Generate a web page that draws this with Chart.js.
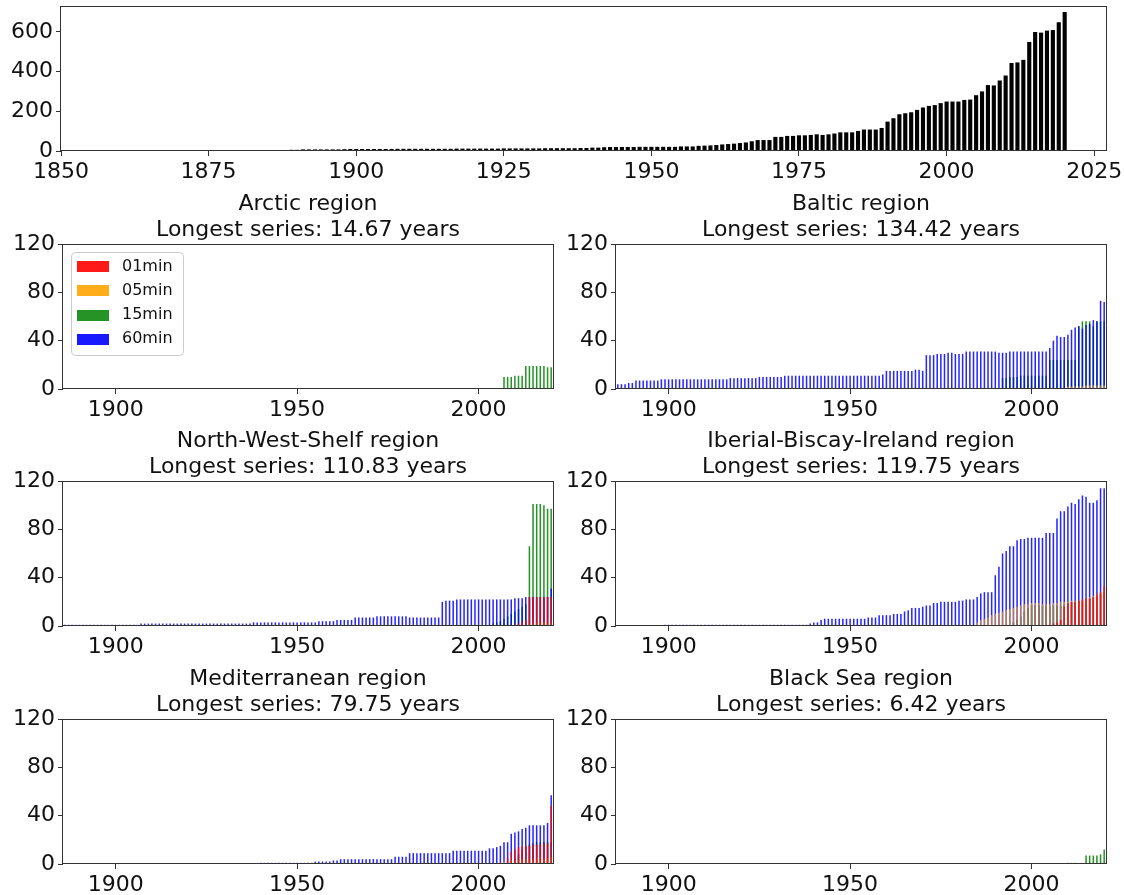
<!DOCTYPE html>
<html>
<head>
<meta charset="utf-8">
<script src="https://cdn.jsdelivr.net/npm/chart.js@4.4.1/dist/chart.umd.min.js"></script>
<style>
  body { margin: 0; background: #fff; }
  #wrap { position: relative; width: 1124px; height: 895px; overflow: hidden; }
  canvas { position: absolute; }
</style>
</head>
<body>
<div id="wrap">
  <canvas id="total" width="1124" height="185" style="left:0;top:0"></canvas>
  <canvas id="arctic" width="560" height="232" style="left:0;top:188px"></canvas>
  <canvas id="baltic" width="564" height="232" style="left:560px;top:188px"></canvas>
  <canvas id="nws" width="560" height="232" style="left:0;top:425px"></canvas>
  <canvas id="ibi" width="564" height="232" style="left:560px;top:425px"></canvas>
  <canvas id="med" width="560" height="232" style="left:0;top:663px"></canvas>
  <canvas id="black" width="564" height="232" style="left:560px;top:663px"></canvas>
</div>
<script>
// ---- data ----
// total number of stations per year (top chart), 1886..2020
const totalFrom = 1886;
const totalStations = [
  5, 5, 5, 6, 6, 8, 8, 8, 8, 8,
  8, 8, 9, 10, 10, 10, 10, 10, 10, 10,
  10, 11, 11, 11, 11, 11, 11, 11, 11, 11,
  11, 12, 12, 12, 12, 12, 12, 12, 12, 13,
  13, 13, 13, 13, 13, 13, 14, 14, 14, 14,
  14, 14, 15, 15, 17, 17, 19, 20, 20, 20,
  20, 20, 21, 21, 21, 21, 21, 21, 21, 23,
  23, 23, 26, 27, 28, 30, 33, 35, 37, 40,
  43, 49, 55, 55, 55, 71, 71, 76, 76, 79,
  79, 81, 84, 81, 84, 88, 94, 94, 94, 101,
  108, 108, 108, 116, 148, 165, 185, 190, 195, 207,
  219, 227, 231, 241, 249, 249, 249, 257, 259, 281,
  300, 332, 330, 355, 380, 443, 446, 459, 549, 599,
  596, 606, 609, 648, 700
];
const totalYearTicks = [1850, 1875, 1900, 1925, 1950, 1975, 2000, 2025];
const totalValueTicks = [0, 200, 400, 600];

const intervalLabels = ["01min", "05min", "15min", "60min"];
const intervalColors = ["rgba(255,0,0,0.85)", "rgba(255,165,0,0.65)", "rgba(0,128,0,0.85)", "rgba(0,0,255,0.85)"];
const legendColors = ["rgba(255,0,0,0.9)", "rgba(255,165,0,0.9)", "rgba(0,128,0,0.85)", "rgba(0,0,255,0.9)"];
const drawOrder = [0, 1, 3, 2]; // red on top, green at the bottom
const panelYearTicks = [1900, 1950, 2000];
const panelValueTicks = [0, 40, 80, 120];

// Arctic
const arctic01From = 2020, arctic01 = [];
const arctic05From = 2020, arctic05 = [];
const arctic15From = 2007, arctic15 = [10, 10, 10, 11, 11, 11, 19, 19, 19, 19, 19, 19, 18, 18];
const arctic60From = 2020, arctic60 = [];

// Baltic
const baltic01From = 2020, baltic01 = [];
const baltic05From = 2010, baltic05 = [2, 2, 2, 2, 2, 3, 3, 3, 3, 3, 3];
const baltic15From = 1992, baltic15 = [
  9, 9, 10, 10, 10, 11, 11, 11, 11, 11, 11, 11, 11,
  24, 24, 24, 24, 24, 24, 24, 24,
  52, 56, 56, 56, 52, 56, 56, 56
];
const baltic60From = 1886, baltic60 = [
  4, 4, 4, 5, 5, 7, 7, 7, 7, 7,
  7, 7, 8, 8, 8, 8, 8, 8, 8, 8,
  8, 8, 8, 8, 8, 8, 8, 8, 8, 8,
  8, 9, 9, 9, 9, 9, 9, 9, 9, 10,
  10, 10, 10, 10, 10, 10, 11, 11, 11, 11,
  11, 11, 11, 11, 11, 11, 11, 11, 11, 11,
  11, 11, 11, 11, 11, 11, 11, 11, 11, 11,
  11, 11, 11, 12, 15, 15, 15, 15, 15, 15,
  15, 15, 16, 16, 15, 28, 28, 28, 29, 29,
  29, 30, 30, 29, 29, 29, 31, 31, 31, 31,
  31, 31, 31, 31, 31, 30, 30, 30, 31, 31,
  31, 31, 31, 31, 31, 31, 31, 31, 31, 34,
  40, 44, 43, 43, 45, 49, 51, 52, 50, 53,
  54, 57, 56, 73, 72
];

// North-West-Shelf
const nws01From = 2010, nws01 = [1, 2, 3, 5, 24, 24, 24, 24, 24, 24, 24];
const nws05From = 2014, nws05 = [2, 2, 3, 3, 3, 3, 3];
const nws15From = 2004, nws15 = [2, 3, 4, 6, 8, 10, 12, 14, 16, 18, 66, 101, 101, 101, 100, 97, 97];
const nws60From = 1886, nws60 = [
  1, 1, 1, 1, 1, 1, 1, 1, 1, 1,
  1, 1, 1, 1, 1, 1, 1, 1, 1, 1,
  1, 2, 2, 2, 2, 2, 2, 2, 2, 2,
  2, 2, 2, 2, 2, 2, 2, 2, 2, 2,
  2, 2, 2, 2, 2, 2, 2, 2, 2, 2,
  2, 2, 3, 3, 3, 3, 3, 3, 3, 3,
  3, 3, 3, 3, 3, 3, 3, 3, 3, 3,
  4, 4, 4, 4, 4, 5, 5, 5, 5, 5,
  7, 7, 7, 7, 7, 7, 8, 8, 8, 8,
  8, 8, 8, 8, 8, 7, 7, 7, 7, 7,
  7, 7, 7, 7, 20, 21, 21, 21, 22, 22,
  22, 22, 22, 22, 22, 22, 22, 22, 22, 22,
  22, 22, 22, 22, 23, 23, 23, 24, 24, 24,
  24, 24, 24, 24, 31
];

// Iberian-Biscay-Ireland
const ibi01From = 2005, ibi01 = [1, 2, 3, 5, 16, 19, 20, 20, 21, 22, 23, 23, 24, 26, 28, 33];
const ibi05From = 1985, ibi05 = [
  3, 5, 6, 7, 9, 10, 11, 12, 13, 14, 15, 16, 17, 18, 18, 19, 19, 19,
  18, 18, 18, 19, 19, 20, 20, 20, 21, 21, 21, 22, 23, 24, 25, 26, 28, 30
];
const ibi15From = 1995, ibi15 = [
  3, 5, 8, 12, 15, 17, 17, 17, 17, 17, 17, 17, 17,
  17, 18, 18, 19, 19, 20, 20, 21, 22, 23, 24, 26, 28
];
const ibi60From = 1899, ibi60 = [
  1, 1, 1, 1, 1, 1, 1,
  1, 1, 1, 1, 1, 1, 1, 1, 1, 1,
  1, 1, 1, 1, 1, 1, 1, 1, 1, 1,
  1, 1, 1, 1, 1, 1, 1, 1, 1, 1,
  1, 1, 1, 2, 3, 3, 5, 6, 6, 6,
  6, 6, 6, 6, 6, 6, 6, 6, 6, 7,
  7, 7, 9, 9, 9, 9, 10, 10, 10, 12,
  13, 15, 15, 15, 16, 17, 17, 19, 19, 20,
  20, 20, 20, 20, 21, 21, 22, 22, 22, 24,
  27, 28, 28, 28, 42, 49, 60, 62, 66, 66,
  71, 72, 72, 73, 73, 73, 73, 73, 77, 77,
  77, 89, 95, 95, 99, 102, 101, 105, 108, 107,
  102, 102, 104, 114, 114
];

// Mediterranean
const med01From = 2008, med01 = [5, 10, 12, 14, 15, 15, 15, 16, 16, 16, 17, 17, 48];
const med05From = 2005, med05 = [1, 1, 2, 3, 3, 3, 3, 4, 4, 4, 4, 5, 5, 5, 5, 6];
const med15From = 2010, med15 = [5, 8, 12, 15, 16, 17, 18, 18, 18, 18, 18];
const med60From = 1940, med60 = [
  1, 1, 1, 1, 1, 1, 1, 1, 1, 1,
  1, 1, 1, 1, 1, 2, 2, 2, 2, 2,
  3, 3, 4, 4, 4, 4, 4, 4, 4, 4,
  4, 4, 4, 4, 4, 4, 4, 6, 6, 6,
  6, 9, 9, 9, 9, 9, 9, 9, 9, 9,
  9, 9, 9, 11, 11, 11, 11, 11, 11, 11,
  11, 11, 11, 13, 13, 14, 15, 18, 18, 25,
  26, 27, 29, 30, 32, 32, 32, 32, 32, 34,
  57
];

// Black Sea
const black01From = 2020, black01 = [];
const black05From = 2020, black05 = [];
const black15From = 2010, black15 = [1, 1, 1, 0, 0, 7, 7, 7, 7, 8, 12];
const black60From = 2020, black60 = [];

const panels = [
  { id: "arctic", title: ["Arctic region", "Longest series: 14.67 years"], axisWidth: 63, padRight: 7, legend: true,
    series: [[arctic01From, arctic01], [arctic05From, arctic05], [arctic15From, arctic15], [arctic60From, arctic60]] },
  { id: "baltic", title: ["Baltic region", "Longest series: 134.42 years"], axisWidth: 56, padRight: 18,
    series: [[baltic01From, baltic01], [baltic05From, baltic05], [baltic15From, baltic15], [baltic60From, baltic60]] },
  { id: "nws", title: ["North-West-Shelf region", "Longest series: 110.83 years"], axisWidth: 63, padRight: 7,
    series: [[nws01From, nws01], [nws05From, nws05], [nws15From, nws15], [nws60From, nws60]] },
  { id: "ibi", title: ["Iberial-Biscay-Ireland region", "Longest series: 119.75 years"], axisWidth: 56, padRight: 18,
    series: [[ibi01From, ibi01], [ibi05From, ibi05], [ibi15From, ibi15], [ibi60From, ibi60]] },
  { id: "med", title: ["Mediterranean region", "Longest series: 79.75 years"], axisWidth: 63, padRight: 7,
    series: [[med01From, med01], [med05From, med05], [med15From, med15], [med60From, med60]] },
  { id: "black", title: ["Black Sea region", "Longest series: 6.42 years"], axisWidth: 56, padRight: 18,
    series: [[black01From, black01], [black05From, black05], [black15From, black15], [black60From, black60]] }
];

// ---- helpers ----
const FONT = "'DejaVu Sans', sans-serif";
const TEXT = "#111";
const AXIS = "#333";

function toPoints(from, values) {
  return values.map((v, i) => ({ x: from + i, y: v }));
}

// box around the plot area like matplotlib spines
const framePlugin = {
  id: "frame",
  afterDatasetsDraw(chart) {
    const { ctx, chartArea: a } = chart;
    ctx.save();
    ctx.strokeStyle = AXIS;
    ctx.lineWidth = 1;
    ctx.strokeRect(Math.round(a.left) - 0.5, Math.round(a.top) + 0.5,
      Math.round(a.right - a.left) + 1, Math.round(a.bottom - a.top) - 1);
    ctx.restore();
  }
};

// legend inside the top-left of the axes
const legendPlugin = {
  id: "boxLegend",
  afterDraw(chart) {
    const { ctx, chartArea: a } = chart;
    const x0 = Math.round(a.left) + 8, y0 = Math.round(a.top) + 8;
    ctx.save();
    ctx.fillStyle = "rgba(255,255,255,0.8)";
    ctx.strokeStyle = "#cccccc";
    ctx.lineWidth = 1;
    ctx.beginPath();
    ctx.roundRect(x0 + 0.5, y0 + 0.5, 112, 103, 4);
    ctx.fill();
    ctx.stroke();
    ctx.font = "16px " + FONT;
    ctx.textBaseline = "middle";
    chart.data.datasets.forEach((ds, i) => {
      const cy = y0 + 14.7 + i * 24.2;
      ctx.fillStyle = ds.legendColor;
      ctx.fillRect(x0 + 6, Math.round(cy - 5.5), 32, 11);
      ctx.fillStyle = TEXT;
      ctx.fillText(ds.label, x0 + 51, cy);
    });
    ctx.restore();
  }
};

function axisOptions(tickValues, extra) {
  return Object.assign({
    type: "linear",
    offset: false,
    grid: { display: true, drawOnChartArea: false, drawTicks: true, tickLength: 5, color: AXIS, offset: false },
    border: { display: false },
    ticks: {
      color: TEXT, padding: 3, autoSkip: false, maxRotation: 0,
      font: { family: FONT, size: 22, lineHeight: 1.2 },
      callback: v => String(v)
    },
    afterBuildTicks: axis => { axis.ticks = tickValues.map(v => ({ value: v })); }
  }, extra);
}

// ---- top chart: total stations ----
new Chart(document.getElementById("total"), {
  type: "bar",
  data: {
    datasets: [{
      data: toPoints(totalFrom, totalStations),
      backgroundColor: "#000",
      barPercentage: 0.7,
      categoryPercentage: 1
    }]
  },
  options: {
    animation: false, responsive: false, devicePixelRatio: 1,
    layout: { padding: { left: 0, right: 18, top: 6, bottom: 0 } },
    plugins: { legend: { display: false }, tooltip: { enabled: false } },
    scales: {
      x: axisOptions(totalYearTicks, {
        min: 1850, max: 2027,
        afterFit: s => { s.height = 34; s.paddingLeft = 0; s.paddingRight = 0; }
      }),
      y: axisOptions(totalValueTicks, {
        min: 0, max: 730,
        afterFit: s => { s.width = 61; s.paddingTop = 0; s.paddingBottom = 0; }
      })
    }
  },
  plugins: [framePlugin]
});

// ---- regional panels ----
panels.forEach(p => {
  const datasets = intervalLabels.map((label, i) => ({
    label,
    data: toPoints(p.series[i][0], p.series[i][1]),
    backgroundColor: intervalColors[i],
    legendColor: legendColors[i],
    order: drawOrder[i],
    grouped: false,
    barPercentage: 0.42,
    categoryPercentage: 1
  }));

  new Chart(document.getElementById(p.id), {
    type: "bar",
    data: { datasets },
    options: {
      animation: false, responsive: false, devicePixelRatio: 1,
      layout: { padding: { left: 0, right: p.padRight, top: 0, bottom: 0 } },
      plugins: {
        legend: { display: false },
        tooltip: { enabled: false },
        title: {
          display: true, text: p.title, fullSize: false, color: TEXT,
          font: { family: FONT, size: 22, weight: "normal", lineHeight: 1.2 },
          padding: { top: 3, bottom: 0.2 }
        }
      },
      scales: {
        x: axisOptions(panelYearTicks, {
          min: 1885.5, max: 2020.5,
          afterFit: s => { s.height = 31; s.paddingLeft = 0; s.paddingRight = 0; }
        }),
        y: axisOptions(panelValueTicks, {
          min: 0, max: 120,
          afterFit: s => { s.width = p.axisWidth; s.paddingTop = 0; s.paddingBottom = 0; }
        })
      }
    },
    plugins: p.legend ? [framePlugin, legendPlugin] : [framePlugin]
  });
});
</script>
</body>
</html>
